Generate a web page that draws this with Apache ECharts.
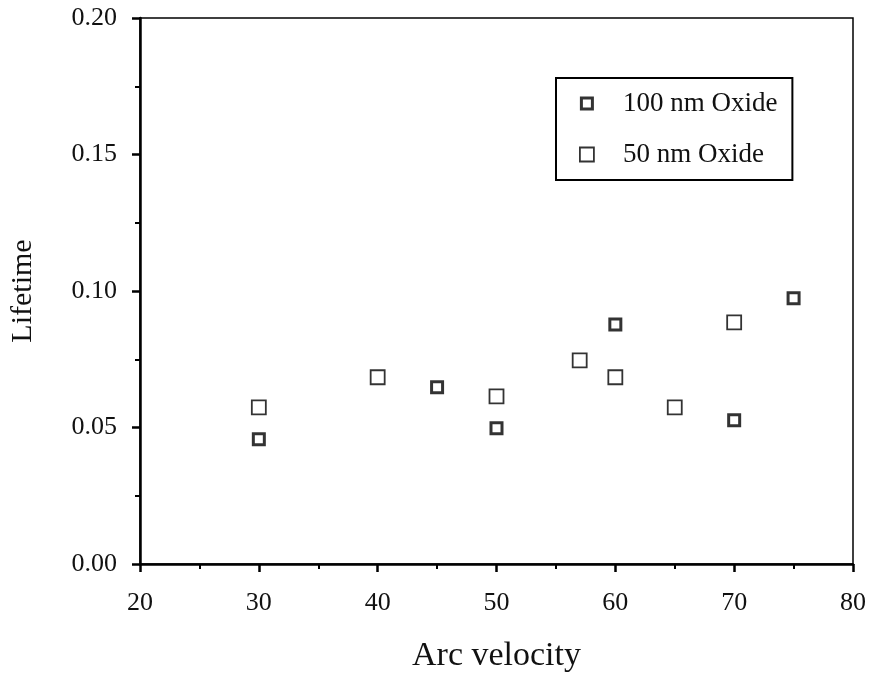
<!DOCTYPE html>
<html><head><meta charset="utf-8">
<script src="https://cdn.jsdelivr.net/npm/echarts@6/dist/echarts.min.js"></script>
<style>html,body{margin:0;padding:0;background:#fff}#c{width:870px;height:678px}</style>
</head><body><div id="c"></div>
<script>
const seriesNames = ['100 nm Oxide', '50 nm Oxide'];
const oxide100X = [30, 45, 50, 60, 70, 75];
const oxide100Y = [0.0457, 0.0647, 0.0497, 0.0877, 0.0527, 0.0973];
const oxide50X = [30, 40, 50, 57, 60, 65, 70];
const oxide50Y = [0.0574, 0.0684, 0.0614, 0.0746, 0.0684, 0.0574, 0.0885];
const xTicks = [20, 30, 40, 50, 60, 70, 80];
const yTicks = [0.00, 0.05, 0.10, 0.15, 0.20];
const xTitle = 'Arc velocity';
const yTitle = 'Lifetime';

const font = 'Liberation Serif';
const thickSym = 'path://M0,0L14,0L14,14L0,14Z M3,3L3,11L11,11L11,3Z';
const chart = echarts.init(document.getElementById('c'));
chart.setOption({
  animation: false,
  backgroundColor: '#fff',
  grid: { left: 140, right: 17, top: 18, bottom: 113, show: true, borderColor: '#000', borderWidth: 1.5, backgroundColor: 'transparent' },
  legend: {
    left: 556, top: 78, orient: 'vertical',
    borderColor: '#000', borderWidth: 2,
    padding: [12, 15, 12, 23],
    itemGap: 24, itemWidth: 14, itemHeight: 14,
    textStyle: { fontFamily: font, fontSize: 27, color: '#111', padding: [0, 0, 0, 24] },
    data: [
      { name: seriesNames[0], icon: thickSym },
      { name: seriesNames[1], icon: 'rect', itemStyle: { color: '#fff', borderColor: '#000', borderWidth: 1.8 } }
    ]
  },
  xAxis: {
    type: 'value', min: xTicks[0], max: xTicks[xTicks.length - 1], interval: 10,
    name: xTitle, nameLocation: 'middle', nameGap: 75,
    nameTextStyle: { fontFamily: font, fontSize: 34, color: '#111' },
    axisLine: { lineStyle: { color: '#000', width: 2.5 } },
    axisTick: { inside: false, length: 8, lineStyle: { color: '#000', width: 2.5 } },
    minorTick: { show: true, splitNumber: 2, length: 5, lineStyle: { color: '#000', width: 2 } },
    axisLabel: { fontFamily: font, fontSize: 26, color: '#111', margin: 26 },
    splitLine: { show: false }
  },
  yAxis: {
    type: 'value', min: yTicks[0], max: yTicks[yTicks.length - 1], interval: 0.05,
    name: yTitle, nameLocation: 'middle', nameGap: 102, nameRotate: 90,
    nameTextStyle: { fontFamily: font, fontSize: 30, color: '#111' },
    axisLine: { lineStyle: { color: '#000', width: 2.5 } },
    axisTick: { inside: false, length: 8, lineStyle: { color: '#000', width: 2.5 } },
    minorTick: { show: true, splitNumber: 2, length: 5, lineStyle: { color: '#000', width: 2 } },
    axisLabel: { fontFamily: font, fontSize: 26, color: '#111', margin: 23, formatter: v => v.toFixed(2) },
    splitLine: { show: false }
  },
  series: [
    {
      name: seriesNames[1], type: 'scatter', symbol: 'rect', symbolSize: 14,
      itemStyle: { color: '#fff', borderColor: '#000', borderWidth: 1.8 },
      data: oxide50X.map((x, i) => [x, oxide50Y[i]])
    },
    {
      name: seriesNames[0], type: 'scatter', symbol: thickSym, symbolSize: 14,
      itemStyle: { color: '#000' },
      data: oxide100X.map((x, i) => [x, oxide100Y[i]])
    }
  ]
});
</script></body></html>
